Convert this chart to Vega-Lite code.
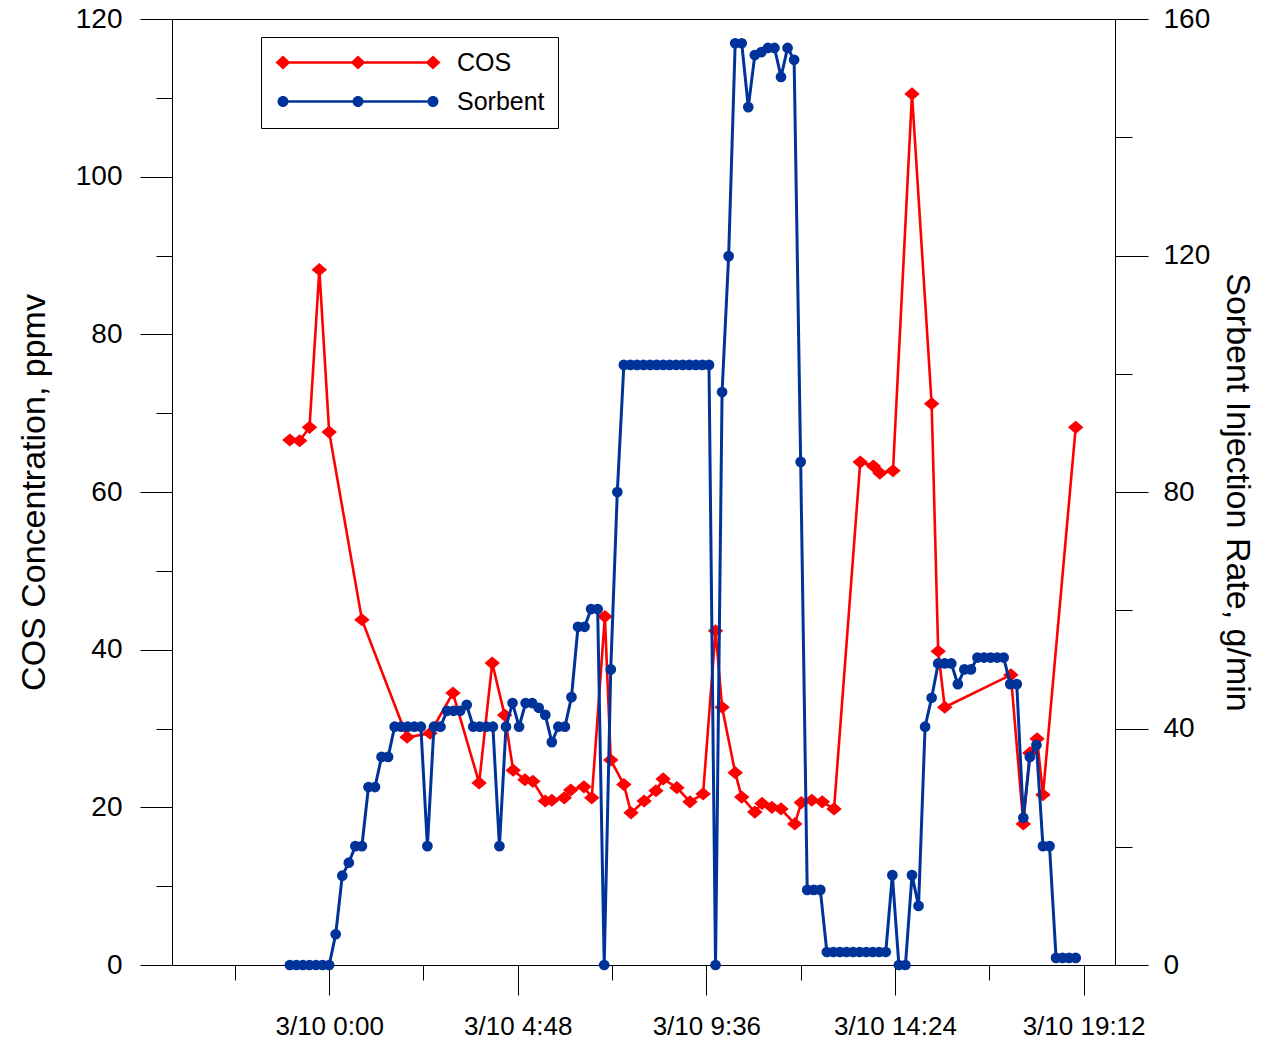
{
  "$schema": "https://vega.github.io/schema/vega-lite/v6.json",
  "width": 943,
  "height": 946,
  "autosize": {"type": "none"},
  "padding": {"left": 172, "top": 19, "right": 150, "bottom": 74},
  "background": "white",
  "config": {
    "font": "Liberation Sans",
    "view": {"stroke": "black", "strokeWidth": 1},
    "axis": {
      "grid": false,
      "domainColor": "black",
      "tickColor": "black",
      "labelColor": "black",
      "titleColor": "black",
      "labelFont": "Liberation Sans",
      "titleFont": "Liberation Sans",
      "titleFontWeight": "normal",
      "domainWidth": 1,
      "tickWidth": 1
    },
    "legend": {
      "labelFont": "Liberation Sans",
      "labelFontSize": 25,
      "labelColor": "black"
    }
  },
  "datasets": {
    "cos": [
      {"t": "2005-03-09T23:00:00", "series": "COS", "v": 66.6},
      {"t": "2005-03-09T23:15:00", "series": "COS", "v": 66.5},
      {"t": "2005-03-09T23:30:00", "series": "COS", "v": 68.2},
      {"t": "2005-03-09T23:45:00", "series": "COS", "v": 88.2},
      {"t": "2005-03-10T00:00:00", "series": "COS", "v": 67.6},
      {"t": "2005-03-10T00:50:00", "series": "COS", "v": 43.8},
      {"t": "2005-03-10T01:59:00", "series": "COS", "v": 28.9},
      {"t": "2005-03-10T02:34:00", "series": "COS", "v": 29.4},
      {"t": "2005-03-10T03:09:00", "series": "COS", "v": 34.5},
      {"t": "2005-03-10T03:49:00", "series": "COS", "v": 23.1},
      {"t": "2005-03-10T04:09:00", "series": "COS", "v": 38.3},
      {"t": "2005-03-10T04:28:00", "series": "COS", "v": 31.7},
      {"t": "2005-03-10T04:41:00", "series": "COS", "v": 24.7},
      {"t": "2005-03-10T04:59:00", "series": "COS", "v": 23.5},
      {"t": "2005-03-10T05:11:00", "series": "COS", "v": 23.3},
      {"t": "2005-03-10T05:30:00", "series": "COS", "v": 20.8},
      {"t": "2005-03-10T05:40:00", "series": "COS", "v": 20.9},
      {"t": "2005-03-10T05:59:00", "series": "COS", "v": 21.2},
      {"t": "2005-03-10T06:09:00", "series": "COS", "v": 22.2},
      {"t": "2005-03-10T06:29:00", "series": "COS", "v": 22.6},
      {"t": "2005-03-10T06:41:00", "series": "COS", "v": 21.2},
      {"t": "2005-03-10T07:01:00", "series": "COS", "v": 44.2},
      {"t": "2005-03-10T07:10:00", "series": "COS", "v": 26.0},
      {"t": "2005-03-10T07:30:00", "series": "COS", "v": 22.9},
      {"t": "2005-03-10T07:41:00", "series": "COS", "v": 19.3},
      {"t": "2005-03-10T08:01:00", "series": "COS", "v": 20.8},
      {"t": "2005-03-10T08:19:00", "series": "COS", "v": 22.1},
      {"t": "2005-03-10T08:30:00", "series": "COS", "v": 23.6},
      {"t": "2005-03-10T08:51:00", "series": "COS", "v": 22.5},
      {"t": "2005-03-10T09:11:00", "series": "COS", "v": 20.7},
      {"t": "2005-03-10T09:31:00", "series": "COS", "v": 21.7},
      {"t": "2005-03-10T09:50:00", "series": "COS", "v": 42.4},
      {"t": "2005-03-10T10:00:00", "series": "COS", "v": 32.7},
      {"t": "2005-03-10T10:20:00", "series": "COS", "v": 24.4},
      {"t": "2005-03-10T10:30:00", "series": "COS", "v": 21.3},
      {"t": "2005-03-10T10:50:00", "series": "COS", "v": 19.4},
      {"t": "2005-03-10T11:01:00", "series": "COS", "v": 20.5},
      {"t": "2005-03-10T11:16:00", "series": "COS", "v": 20.0},
      {"t": "2005-03-10T11:30:00", "series": "COS", "v": 19.8},
      {"t": "2005-03-10T11:51:00", "series": "COS", "v": 17.9},
      {"t": "2005-03-10T12:01:00", "series": "COS", "v": 20.6},
      {"t": "2005-03-10T12:17:00", "series": "COS", "v": 20.9},
      {"t": "2005-03-10T12:33:00", "series": "COS", "v": 20.7},
      {"t": "2005-03-10T12:51:00", "series": "COS", "v": 19.8},
      {"t": "2005-03-10T13:31:00", "series": "COS", "v": 63.8},
      {"t": "2005-03-10T13:51:00", "series": "COS", "v": 63.3},
      {"t": "2005-03-10T14:01:00", "series": "COS", "v": 62.4},
      {"t": "2005-03-10T14:21:00", "series": "COS", "v": 62.7},
      {"t": "2005-03-10T14:50:00", "series": "COS", "v": 110.5},
      {"t": "2005-03-10T15:20:00", "series": "COS", "v": 71.2},
      {"t": "2005-03-10T15:30:00", "series": "COS", "v": 39.8},
      {"t": "2005-03-10T15:40:00", "series": "COS", "v": 32.7},
      {"t": "2005-03-10T17:21:00", "series": "COS", "v": 36.8},
      {"t": "2005-03-10T17:40:00", "series": "COS", "v": 17.9},
      {"t": "2005-03-10T17:50:00", "series": "COS", "v": 26.9},
      {"t": "2005-03-10T18:01:00", "series": "COS", "v": 28.7},
      {"t": "2005-03-10T18:10:00", "series": "COS", "v": 21.6},
      {"t": "2005-03-10T19:00:00", "series": "COS", "v": 68.2}
    ],
    "sorbent": [
      {"t": "2005-03-09T23:00:00", "series": "Sorbent", "v": 0},
      {"t": "2005-03-09T23:10:00", "series": "Sorbent", "v": 0},
      {"t": "2005-03-09T23:20:00", "series": "Sorbent", "v": 0},
      {"t": "2005-03-09T23:30:00", "series": "Sorbent", "v": 0},
      {"t": "2005-03-09T23:40:00", "series": "Sorbent", "v": 0},
      {"t": "2005-03-09T23:50:00", "series": "Sorbent", "v": 0},
      {"t": "2005-03-10T00:00:00", "series": "Sorbent", "v": 0},
      {"t": "2005-03-10T00:10:00", "series": "Sorbent", "v": 5.2},
      {"t": "2005-03-10T00:20:00", "series": "Sorbent", "v": 15.1},
      {"t": "2005-03-10T00:30:00", "series": "Sorbent", "v": 17.3},
      {"t": "2005-03-10T00:40:00", "series": "Sorbent", "v": 20.1},
      {"t": "2005-03-10T00:50:00", "series": "Sorbent", "v": 20.1},
      {"t": "2005-03-10T01:00:00", "series": "Sorbent", "v": 30.1},
      {"t": "2005-03-10T01:10:00", "series": "Sorbent", "v": 30.1},
      {"t": "2005-03-10T01:20:00", "series": "Sorbent", "v": 35.2},
      {"t": "2005-03-10T01:30:00", "series": "Sorbent", "v": 35.2},
      {"t": "2005-03-10T01:40:00", "series": "Sorbent", "v": 40.3},
      {"t": "2005-03-10T01:50:00", "series": "Sorbent", "v": 40.3},
      {"t": "2005-03-10T02:00:00", "series": "Sorbent", "v": 40.3},
      {"t": "2005-03-10T02:10:00", "series": "Sorbent", "v": 40.3},
      {"t": "2005-03-10T02:20:00", "series": "Sorbent", "v": 40.3},
      {"t": "2005-03-10T02:30:00", "series": "Sorbent", "v": 20.1},
      {"t": "2005-03-10T02:40:00", "series": "Sorbent", "v": 40.3},
      {"t": "2005-03-10T02:50:00", "series": "Sorbent", "v": 40.3},
      {"t": "2005-03-10T03:00:00", "series": "Sorbent", "v": 43.0},
      {"t": "2005-03-10T03:10:00", "series": "Sorbent", "v": 43.0},
      {"t": "2005-03-10T03:20:00", "series": "Sorbent", "v": 43.0},
      {"t": "2005-03-10T03:30:00", "series": "Sorbent", "v": 44.0},
      {"t": "2005-03-10T03:40:00", "series": "Sorbent", "v": 40.3},
      {"t": "2005-03-10T03:50:00", "series": "Sorbent", "v": 40.3},
      {"t": "2005-03-10T04:00:00", "series": "Sorbent", "v": 40.3},
      {"t": "2005-03-10T04:10:00", "series": "Sorbent", "v": 40.3},
      {"t": "2005-03-10T04:20:00", "series": "Sorbent", "v": 20.1},
      {"t": "2005-03-10T04:30:00", "series": "Sorbent", "v": 40.3},
      {"t": "2005-03-10T04:40:00", "series": "Sorbent", "v": 44.3},
      {"t": "2005-03-10T04:50:00", "series": "Sorbent", "v": 40.3},
      {"t": "2005-03-10T05:00:00", "series": "Sorbent", "v": 44.3},
      {"t": "2005-03-10T05:10:00", "series": "Sorbent", "v": 44.3},
      {"t": "2005-03-10T05:20:00", "series": "Sorbent", "v": 43.5},
      {"t": "2005-03-10T05:30:00", "series": "Sorbent", "v": 42.3},
      {"t": "2005-03-10T05:40:00", "series": "Sorbent", "v": 37.7},
      {"t": "2005-03-10T05:50:00", "series": "Sorbent", "v": 40.3},
      {"t": "2005-03-10T06:00:00", "series": "Sorbent", "v": 40.3},
      {"t": "2005-03-10T06:10:00", "series": "Sorbent", "v": 45.3},
      {"t": "2005-03-10T06:20:00", "series": "Sorbent", "v": 57.2},
      {"t": "2005-03-10T06:30:00", "series": "Sorbent", "v": 57.2},
      {"t": "2005-03-10T06:40:00", "series": "Sorbent", "v": 60.2},
      {"t": "2005-03-10T06:50:00", "series": "Sorbent", "v": 60.2},
      {"t": "2005-03-10T07:00:00", "series": "Sorbent", "v": 0},
      {"t": "2005-03-10T07:10:00", "series": "Sorbent", "v": 50.0},
      {"t": "2005-03-10T07:20:00", "series": "Sorbent", "v": 80.0},
      {"t": "2005-03-10T07:30:00", "series": "Sorbent", "v": 101.5},
      {"t": "2005-03-10T07:40:00", "series": "Sorbent", "v": 101.5},
      {"t": "2005-03-10T07:50:00", "series": "Sorbent", "v": 101.5},
      {"t": "2005-03-10T08:00:00", "series": "Sorbent", "v": 101.5},
      {"t": "2005-03-10T08:10:00", "series": "Sorbent", "v": 101.5},
      {"t": "2005-03-10T08:20:00", "series": "Sorbent", "v": 101.5},
      {"t": "2005-03-10T08:30:00", "series": "Sorbent", "v": 101.5},
      {"t": "2005-03-10T08:40:00", "series": "Sorbent", "v": 101.5},
      {"t": "2005-03-10T08:50:00", "series": "Sorbent", "v": 101.5},
      {"t": "2005-03-10T09:00:00", "series": "Sorbent", "v": 101.5},
      {"t": "2005-03-10T09:10:00", "series": "Sorbent", "v": 101.5},
      {"t": "2005-03-10T09:20:00", "series": "Sorbent", "v": 101.5},
      {"t": "2005-03-10T09:30:00", "series": "Sorbent", "v": 101.5},
      {"t": "2005-03-10T09:40:00", "series": "Sorbent", "v": 101.5},
      {"t": "2005-03-10T09:50:00", "series": "Sorbent", "v": 0},
      {"t": "2005-03-10T10:00:00", "series": "Sorbent", "v": 96.9},
      {"t": "2005-03-10T10:10:00", "series": "Sorbent", "v": 119.9},
      {"t": "2005-03-10T10:20:00", "series": "Sorbent", "v": 155.9},
      {"t": "2005-03-10T10:30:00", "series": "Sorbent", "v": 155.9},
      {"t": "2005-03-10T10:40:00", "series": "Sorbent", "v": 145.1},
      {"t": "2005-03-10T10:50:00", "series": "Sorbent", "v": 153.9},
      {"t": "2005-03-10T11:00:00", "series": "Sorbent", "v": 154.4},
      {"t": "2005-03-10T11:10:00", "series": "Sorbent", "v": 155.1},
      {"t": "2005-03-10T11:20:00", "series": "Sorbent", "v": 155.1},
      {"t": "2005-03-10T11:30:00", "series": "Sorbent", "v": 150.2},
      {"t": "2005-03-10T11:40:00", "series": "Sorbent", "v": 155.1},
      {"t": "2005-03-10T11:50:00", "series": "Sorbent", "v": 153.1},
      {"t": "2005-03-10T12:00:00", "series": "Sorbent", "v": 85.1},
      {"t": "2005-03-10T12:10:00", "series": "Sorbent", "v": 12.7},
      {"t": "2005-03-10T12:20:00", "series": "Sorbent", "v": 12.7},
      {"t": "2005-03-10T12:30:00", "series": "Sorbent", "v": 12.7},
      {"t": "2005-03-10T12:40:00", "series": "Sorbent", "v": 2.2},
      {"t": "2005-03-10T12:50:00", "series": "Sorbent", "v": 2.2},
      {"t": "2005-03-10T13:00:00", "series": "Sorbent", "v": 2.2},
      {"t": "2005-03-10T13:10:00", "series": "Sorbent", "v": 2.2},
      {"t": "2005-03-10T13:20:00", "series": "Sorbent", "v": 2.2},
      {"t": "2005-03-10T13:30:00", "series": "Sorbent", "v": 2.2},
      {"t": "2005-03-10T13:40:00", "series": "Sorbent", "v": 2.2},
      {"t": "2005-03-10T13:50:00", "series": "Sorbent", "v": 2.2},
      {"t": "2005-03-10T14:00:00", "series": "Sorbent", "v": 2.2},
      {"t": "2005-03-10T14:10:00", "series": "Sorbent", "v": 2.2},
      {"t": "2005-03-10T14:20:00", "series": "Sorbent", "v": 15.2},
      {"t": "2005-03-10T14:30:00", "series": "Sorbent", "v": 0},
      {"t": "2005-03-10T14:40:00", "series": "Sorbent", "v": 0},
      {"t": "2005-03-10T14:50:00", "series": "Sorbent", "v": 15.2},
      {"t": "2005-03-10T15:00:00", "series": "Sorbent", "v": 10.0},
      {"t": "2005-03-10T15:10:00", "series": "Sorbent", "v": 40.3},
      {"t": "2005-03-10T15:20:00", "series": "Sorbent", "v": 45.2},
      {"t": "2005-03-10T15:30:00", "series": "Sorbent", "v": 51.0},
      {"t": "2005-03-10T15:40:00", "series": "Sorbent", "v": 51.0},
      {"t": "2005-03-10T15:50:00", "series": "Sorbent", "v": 51.0},
      {"t": "2005-03-10T16:00:00", "series": "Sorbent", "v": 47.5},
      {"t": "2005-03-10T16:10:00", "series": "Sorbent", "v": 50.0},
      {"t": "2005-03-10T16:20:00", "series": "Sorbent", "v": 50.0},
      {"t": "2005-03-10T16:30:00", "series": "Sorbent", "v": 52.0},
      {"t": "2005-03-10T16:40:00", "series": "Sorbent", "v": 52.0},
      {"t": "2005-03-10T16:50:00", "series": "Sorbent", "v": 52.0},
      {"t": "2005-03-10T17:00:00", "series": "Sorbent", "v": 52.0},
      {"t": "2005-03-10T17:10:00", "series": "Sorbent", "v": 52.0},
      {"t": "2005-03-10T17:20:00", "series": "Sorbent", "v": 47.5},
      {"t": "2005-03-10T17:30:00", "series": "Sorbent", "v": 47.5},
      {"t": "2005-03-10T17:40:00", "series": "Sorbent", "v": 24.9},
      {"t": "2005-03-10T17:50:00", "series": "Sorbent", "v": 35.2},
      {"t": "2005-03-10T18:00:00", "series": "Sorbent", "v": 37.2},
      {"t": "2005-03-10T18:10:00", "series": "Sorbent", "v": 20.1},
      {"t": "2005-03-10T18:20:00", "series": "Sorbent", "v": 20.1},
      {"t": "2005-03-10T18:30:00", "series": "Sorbent", "v": 1.2},
      {"t": "2005-03-10T18:40:00", "series": "Sorbent", "v": 1.2},
      {"t": "2005-03-10T18:50:00", "series": "Sorbent", "v": 1.2},
      {"t": "2005-03-10T19:00:00", "series": "Sorbent", "v": 1.2}
    ]
  },
  "layer": [
    {
      "data": {"name": "cos"},
      "layer": [
        {
          "mark": {"type": "line", "strokeWidth": 2.6},
          "encoding": {
            "x": {
              "field": "t", "type": "temporal",
              "scale": {"domain": [{"year": 2005, "month": 3, "date": 9, "hours": 20}, {"year": 2005, "month": 3, "date": 10, "hours": 20}]},
              "axis": {
                "orient": "bottom",
                "title": null,
                "values": [
                  {"year": 2005, "month": 3, "date": 10, "hours": 0, "minutes": 0},
                  {"year": 2005, "month": 3, "date": 10, "hours": 4, "minutes": 48},
                  {"year": 2005, "month": 3, "date": 10, "hours": 9, "minutes": 36},
                  {"year": 2005, "month": 3, "date": 10, "hours": 14, "minutes": 24},
                  {"year": 2005, "month": 3, "date": 10, "hours": 19, "minutes": 12}
                ],
                "format": "%-m/%-d %-H:%M",
                "tickSize": 30,
                "labelPadding": 18,
                "labelFontSize": 26,
                "labelFlush": false,
                "labelOverlap": false
              }
            },
            "y": {
              "field": "v", "type": "quantitative",
              "scale": {"domain": [0, 120], "nice": false, "zero": false},
              "axis": {
                "orient": "left",
                "title": "COS Concentration, ppmv",
                "values": [0, 20, 40, 60, 80, 100, 120],
                "tickSize": 32,
                "labelPadding": 18,
                "labelFontSize": 28,
                "titleFontSize": 34,
                "titlePadding": 24,
                "labelFlush": false,
                "labelOverlap": false
              }
            },
            "color": {
              "field": "series", "type": "nominal",
              "scale": {"domain": ["COS", "Sorbent"], "range": ["#ff0000", "#00339a"]},
              "legend": {
                "title": null,
                "orient": "none",
                "legendX": 89,
                "legendY": 18,
                "padding": 13,
                "rowPadding": 13,
                "strokeColor": "black",
                "fillColor": "white",
                "symbolSize": 400,
                "symbolStrokeWidth": 0,
                "symbolOpacity": 1,
                "symbolOffset": 71.5,
                "labelOffset": 86.5,
                "labelFontSize": 25
              }
            }
          }
        },
        {
          "mark": {"type": "point", "filled": true, "opacity": 1, "size": 240, "shape": "M-1,0L0,-0.85L1,0L0,0.85Z"},
          "encoding": {
            "x": {
              "field": "t", "type": "temporal",
              "axis": {
                "orient": "bottom",
                "title": null,
                "values": [
                  {"year": 2005, "month": 3, "date": 9, "hours": 21, "minutes": 36},
                  {"year": 2005, "month": 3, "date": 10, "hours": 2, "minutes": 24},
                  {"year": 2005, "month": 3, "date": 10, "hours": 7, "minutes": 12},
                  {"year": 2005, "month": 3, "date": 10, "hours": 12, "minutes": 0},
                  {"year": 2005, "month": 3, "date": 10, "hours": 16, "minutes": 48}
                ],
                "tickSize": 15,
                "labels": false,
                "domain": false
              }
            },
            "y": {
              "field": "v", "type": "quantitative",
              "scale": {"domain": [0, 120], "nice": false, "zero": false},
              "axis": {
                "orient": "left",
                "title": null,
                "values": [10, 30, 50, 70, 90, 110],
                "tickSize": 16,
                "labels": false,
                "domain": false
              }
            },
            "color": {"field": "series", "type": "nominal"}
          }
        }
      ],
      "resolve": {"axis": {"x": "independent", "y": "independent"}}
    },
    {
      "data": {"name": "sorbent"},
      "layer": [
        {
          "mark": {"type": "line", "strokeWidth": 3},
          "encoding": {
            "x": {"field": "t", "type": "temporal", "axis": null},
            "y": {
              "field": "v", "type": "quantitative",
              "scale": {"domain": [0, 160], "nice": false, "zero": false},
              "axis": {
                "orient": "right",
                "title": "Sorbent Injection Rate, g/min",
                "values": [0, 40, 80, 120, 160],
                "tickSize": 33,
                "labelPadding": 15,
                "labelFontSize": 28,
                "titleFontSize": 34,
                "titlePadding": 10,
                "labelFlush": false,
                "labelOverlap": false
              }
            },
            "color": {"field": "series", "type": "nominal"}
          }
        },
        {
          "mark": {"type": "point", "filled": true, "opacity": 1, "size": 115, "shape": "circle"},
          "encoding": {
            "x": {"field": "t", "type": "temporal", "axis": null},
            "y": {
              "field": "v", "type": "quantitative",
              "scale": {"domain": [0, 160], "nice": false, "zero": false},
              "axis": {
                "orient": "right",
                "title": null,
                "values": [20, 60, 100, 140],
                "tickSize": 17,
                "labels": false,
                "domain": false
              }
            },
            "color": {"field": "series", "type": "nominal"}
          }
        }
      ],
      "resolve": {"axis": {"y": "independent"}}
    },
    {
      "data": {"name": "cos"},
      "mark": {"type": "point", "filled": true, "opacity": 0, "size": 400},
      "encoding": {
        "x": {"field": "t", "type": "temporal", "axis": null},
        "y": {"field": "v", "type": "quantitative", "axis": null, "scale": {"domain": [0, 120], "nice": false, "zero": false}},
        "shape": {
          "field": "series", "type": "nominal",
          "scale": {
            "domain": ["COS", "Sorbent"],
            "range": [
              "M-7.5,-0.13H7.5V0.13H-7.5Z M-8.25,0L-7.5,-0.7L-6.75,0L-7.5,0.7Z M-0.75,0L0,-0.7L0.75,0L0,0.7Z M6.75,0L7.5,-0.7L8.25,0L7.5,0.7Z",
              "M-7.5,-0.13H7.5V0.13H-7.5Z M-8.05,0A0.55,0.55 0 1,1 -6.95,0A0.55,0.55 0 1,1 -8.05,0Z M-0.55,0A0.55,0.55 0 1,1 0.55,0A0.55,0.55 0 1,1 -0.55,0Z M6.95,0A0.55,0.55 0 1,1 8.05,0A0.55,0.55 0 1,1 6.95,0Z"
            ]
          },
          "legend": {
            "title": null,
            "orient": "none",
            "legendX": 89,
            "legendY": 18,
            "padding": 13,
            "rowPadding": 13,
            "strokeColor": "black",
            "fillColor": "white",
            "symbolSize": 400,
            "symbolStrokeWidth": 0,
            "symbolOpacity": 1,
            "symbolOffset": 71.5,
            "labelOffset": 86.5,
            "labelFontSize": 25
          }
        }
      }
    }
  ],
  "resolve": {"scale": {"y": "independent"}}
}
